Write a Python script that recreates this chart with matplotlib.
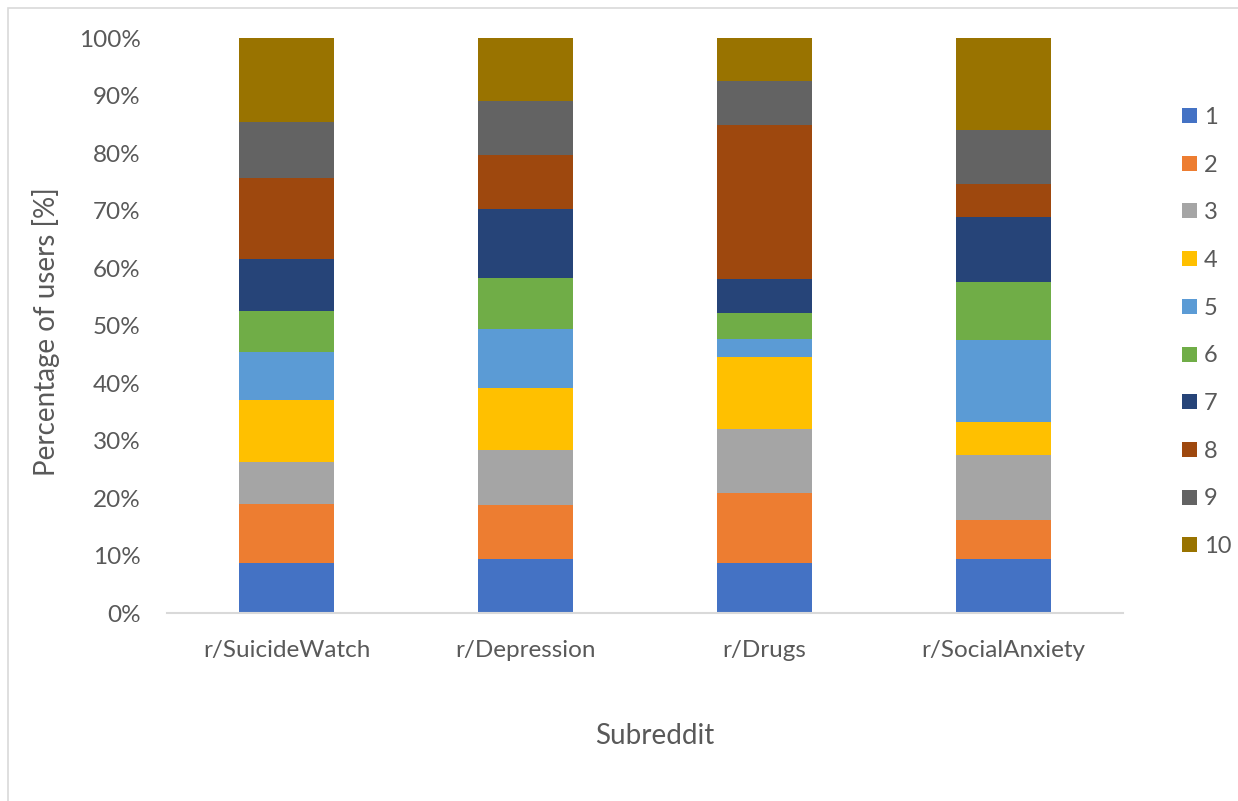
import numpy as np
import matplotlib.pyplot as plt
from matplotlib.patches import Rectangle
from matplotlib.ticker import FuncFormatter

plt.rcParams['font.family'] = ['Lato', 'DejaVu Sans']

# subreddits on the x axis
subreddits = ['r/SuicideWatch', 'r/Depression', 'r/Drugs', 'r/SocialAnxiety']

# share of users per group (percent), one list per subreddit, groups 1..10
suicidewatch = [8.7, 10.3, 7.4, 10.7, 8.4, 7.1, 9.1, 14.0, 9.7, 14.6]
depression = [9.4, 9.4, 9.7, 10.7, 10.3, 8.8, 12.0, 9.4, 9.4, 10.9]
drugs = [8.7, 12.3, 11.0, 12.6, 3.2, 4.5, 5.9, 26.8, 7.5, 7.5]
socialanxiety = [9.4, 6.8, 11.3, 5.8, 14.3, 10.0, 11.3, 5.8, 9.4, 15.9]

groups = ['1', '2', '3', '4', '5', '6', '7', '8', '9', '10']
colors = ['#4472C4', '#ED7D31', '#A5A5A5', '#FFC000', '#5B9BD5',
          '#70AD47', '#264478', '#9E480E', '#636363', '#997300']

data = np.array([suicidewatch, depression, drugs, socialanxiety])
# normalise to 100% like a 100% stacked column chart
data = data / data.sum(axis=1, keepdims=True) * 100

fig = plt.figure(figsize=(12.38, 8.01), dpi=100)
ax = fig.add_axes([0.1349, 0.2341, 0.7722, 0.7181])

x = np.arange(len(subreddits))
bottom = np.zeros(len(subreddits))
for i, g in enumerate(groups):
    ax.bar(x, data[:, i], bottom=bottom, width=0.4, color=colors[i],
           label=g, linewidth=0)
    bottom += data[:, i]

text_col = '#595959'
ax.set_xlim(-0.5, 3.5)
ax.set_ylim(0, 100)
ax.set_yticks(np.arange(0, 101, 10))
ax.yaxis.set_major_formatter(FuncFormatter(lambda v, p: f'{v:.0f}%'))
ax.set_xticks(x)
ax.set_xticklabels(subreddits)
ax.tick_params(axis='both', length=0, labelsize=17.5, colors=text_col)
ax.tick_params(axis='y', pad=19)
ax.tick_params(axis='x', pad=19)

for s in ['top', 'right', 'left']:
    ax.spines[s].set_visible(False)
ax.spines['bottom'].set_color('#d9d9d9')
ax.spines['bottom'].set_linewidth(1.5)

ax.set_xlabel('Subreddit', fontsize=20, color=text_col)
ax.xaxis.set_label_coords(0.51, -0.19)
ax.set_ylabel('Percentage of users [%]', fontsize=20, color=text_col)
ax.yaxis.set_label_coords(-0.112, 0.49)

ax.legend(loc='upper left', bbox_to_anchor=(0.938, 0.893),
          bbox_transform=fig.transFigure, frameon=False, fontsize=17,
          labelcolor=text_col, handlelength=0.6, handleheight=0.6,
          handletextpad=0.3, labelspacing=1.13)

# chart area border
fig.patches.append(Rectangle((8 / 1238, -0.1), 1.2, 1.1 - 8 / 801,
                             transform=fig.transFigure, fill=False,
                             edgecolor='#d9d9d9', linewidth=1.2))

fig.savefig('out.png', dpi=100)
